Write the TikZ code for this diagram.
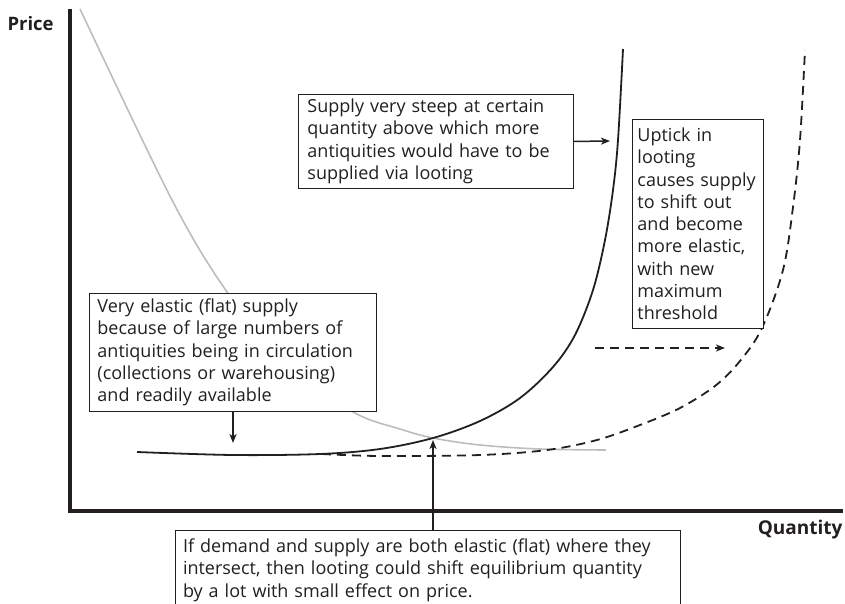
\documentclass[tikz,border=0pt]{standalone}
\usepackage{fontspec}
\setmainfont{Open Sans}
\usetikzlibrary{arrows.meta,calc}
\definecolor{ink}{HTML}{231F20}
\definecolor{demandgray}{HTML}{BDBDBD}
\begin{document}
\begin{tikzpicture}[x=1pt,y=-1pt,
  txt/.style={font=\fontsize{18}{22.3}\selectfont, text=ink},
  boxnode/.style={txt, draw=ink, line width=0.9pt, fill=white, align=left,
     inner xsep=8pt, inner ysep=3pt},
  axis/.style={line width=3.6pt, draw=ink},
  curve/.style={line width=1.8pt, draw=ink},
  demand/.style={line width=1.6pt, draw=demandgray},
  arr/.style={line width=1.5pt, draw=ink, -{Stealth[length=9pt,width=7pt,inset=2.5pt]}},
  axlabel/.style={font=\fontsize{18.5}{20}\selectfont\bfseries, text=ink}]
\useasboundingbox (0,0) rectangle (845,604);
\clip (0,0) rectangle (845,604);

% demand curve (gray)
\draw[demand] plot[smooth, tension=0.55] coordinates {(80,9) (172,200) (227,292) (285,364) (353,412) (400,429) (433,438) (480,445) (540,449) (606,450)};

% shifted supply (dashed)
\draw[curve, dash pattern=on 9pt off 6pt] plot[smooth, tension=0.55] coordinates {(322,454) (380,456) (480,455) (547,450) (597,440) (640,425) (680,408) (715,386) (740,361) (762,328) (783,270) (793,207) (800,140) (805,50)};

% original supply (solid)
\draw[curve] plot[smooth, tension=0.55] coordinates {(137,452) (233,455) (320,454) (380,449) (433,438) (480,421) (520,398) (553,367) (575,335) (593,290) (605,240) (613,190) (618,140) (623,49)};

% axes
\coordinate (origin) at (70,511);
\coordinate (ytop) at (70,9);
\coordinate (xend) at (843,511);
\draw[axis] (ytop) -- (origin) -- (xend);
\node[axlabel, anchor=west] (price) at (4,24) {Price};
\node[axlabel, anchor=east, font=\fontsize{19}{20}\selectfont\bfseries] (qty) at (846,530) {Quantity};

% boxes
\node[boxnode, text width=257pt, minimum height=94pt, anchor=north west, inner xsep=9pt] (b1) at (298,94)
  {Supply very steep at certain\\quantity above which more\\antiquities would have to be\\supplied via looting};
\node[boxnode, text width=121pt, minimum height=209pt, anchor=north west, inner xsep=5pt] (b2) at (632,119)
  {Uptick in\\looting\\causes supply\\to shift out\\and become\\more elastic,\\with new\\maximum\\threshold};
\node[boxnode, text width=271pt, minimum height=118pt, anchor=north west] (b3) at (89,293)
  {Very elastic (flat) supply\\because of large numbers of\\antiquities being in circulation\\(collections or warehousing)\\and readily available};
\node[boxnode, text width=489pt, inner ysep=8pt] (b4) at (427.5,570)
  {If demand and supply are both elastic (flat) where they\\intersect, then looting could shift equilibrium quantity\\by a lot with small effect on price.};

% arrows
\coordinate (s1) at (610,141);
\draw[arr] (b1.east) -- (s1);
\coordinate (s3) at (233,443);
\draw[arr] (b3.south -| s3) -- (s3);
\coordinate (eq) at (433,440);
\draw[arr] (b4.north -| eq) -- (eq);
\coordinate (da1) at (595,348);
\coordinate (da2) at (725,348);
\draw[arr, dash pattern=on 9pt off 6pt] (da1) -- (da2);
\end{tikzpicture}
\end{document}
